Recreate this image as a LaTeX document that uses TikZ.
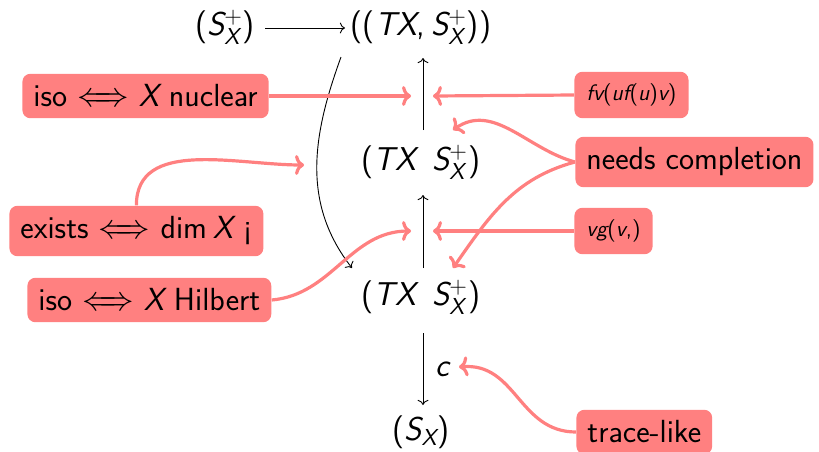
\documentclass[tikz,border=0pt]{standalone}
\usetikzlibrary{arrows.meta}
\renewcommand\familydefault{\sfdefault}
\DeclareSymbolFont{operators}{TU}{lmss}{m}{n}
\DeclareSymbolFont{letters}{TU}{lmss}{m}{sl}
\DeclareMathSymbol{,}{\mathpunct}{operators}{"2C}
\newcommand\myiff{\mathrel{\Leftarrow\mkern-9mu\Rightarrow}}
\definecolor{hl}{RGB}{255,128,128}
\tikzset{
  x=0.5pt, y=-0.5pt,
  mainnode/.style={font=\fontsize{16.5}{19}\selectfont, inner sep=2pt},
  box/.style={fill=hl, rounded corners=4pt, inner sep=5.5pt, font=\fontsize{16}{19}\selectfont},
  smallbox/.style={box, font=\fontsize{11.2}{13}\selectfont, inner sep=6pt},
  catarrow/.style={->, line width=0.45pt},
  hlarrow/.style={-{To[length=4.5pt,width=10pt]}, draw=hl, line width=1.6pt},
}
\begin{document}
\begin{tikzpicture}
\useasboundingbox (0,0) rectangle (819,451);
% main diagram
\node[mainnode] (A) at (225,27) {$(S_X^+)$};
\node[mainnode] (B) at (421,27) {$((TX, S_X^+))$};
\node[mainnode] (C) at (421,162) {$(TX\enspace S_X^+)$};
\node[mainnode] (D) at (421,297) {$(TX\enspace S_X^+)$};
\node[mainnode] (E) at (421,432) {$(S_X)$};
\coordinate (c1) at (423,130); \coordinate (c2) at (423,58);
\coordinate (d1) at (423,268); \coordinate (d2) at (423,195);
\coordinate (e1) at (423,333); \coordinate (e2) at (423,405);
\coordinate (b1) at (341,57); \coordinate (b2) at (352,268);
\coordinate (a1) at (265,28); \coordinate (a2) at (345,28);
\draw[catarrow] (a1) -- (a2);
\draw[catarrow] (c1) -- (c2);
\draw[catarrow] (d1) -- (d2);
\draw[catarrow] (e1) -- node[right, font=\fontsize{16.5}{19}\selectfont, inner sep=6pt] (cl) {$c$} (e2);
\draw[catarrow] (b1) to[out=-110, in=128] (b2);
% boxes
\node[box, anchor=west] (nuc) at (22,96) {iso\ $\myiff$\ $X$ nuclear};
\node[smallbox, anchor=west] (fv) at (574,95) {$fv(uf(u)v)$};
\node[box, anchor=west] (nc) at (575,162) {needs completion};
\node[box, anchor=west] (ex) at (9,231) {exists\ $\myiff$\ $\dim X$ ¡};
\node[smallbox, anchor=west] (vg) at (574,231) {$vg(v{,})$};
\node[box, anchor=west] (hil) at (27,300) {iso\ $\myiff$\ $X$ Hilbert};
\node[box, anchor=west] (tr) at (576,432) {trace-like};
% highlight arrows
\coordinate (t1) at (411,96); \coordinate (t2) at (433,96);
\coordinate (t3) at (304,165); \coordinate (t4) at (453,130);
\coordinate (t5) at (411,231); \coordinate (t6) at (433,231);
\coordinate (t7) at (453,268); \coordinate (t8) at (459,367);
\draw[hlarrow] (nuc.east) -- (t1);
\draw[hlarrow] (fv.west) -- (t2);
\draw[hlarrow] (ex.north) to[out=90, in=180] (t3);
\draw[hlarrow] (hil.east) to[out=5, in=180] (t5);
\draw[hlarrow] (vg.west) -- (t6);
\draw[hlarrow] (nc.west) to[out=165, in=35] (t4);
\draw[hlarrow] (nc.west) to[out=195, in=55] (t7);
\draw[hlarrow] (tr.west) to[out=180, in=5, looseness=1.1] (t8);
\end{tikzpicture}
\end{document}
